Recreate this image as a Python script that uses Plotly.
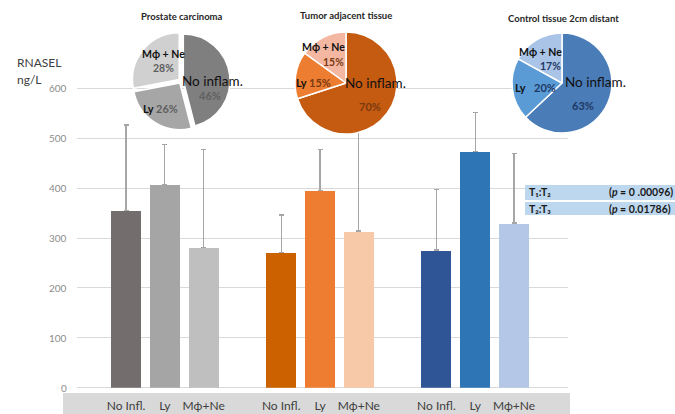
import plotly.graph_objects as go

# ---------------- data ----------------
categories = ["No Infl.", "Ly", "Mϕ+Ne"]
groups = ["Prostate carcinoma", "Tumor adjacent tissue", "Control tissue 2cm distant"]
means = [[355, 408, 281], [271, 396, 314], [276, 474, 330]]
err_top = [[527, 487, 477], [346, 477, 535], [398, 552, 470]]
bar_colors = [["#736d6d", "#a5a5a5", "#bfbfbf"],
              ["#cc6100", "#ee7d31", "#f8c9a9"],
              ["#2f5597", "#2e75b6", "#b4c7e7"]]

pie_labels = ["No inflam.", "Ly", "Mϕ + Ne"]
pie_values = [[46, 26, 28], [70, 15, 15], [63, 20, 17]]
pie_colors = [["#7f7f7f", "#a6a6a6", "#d0d0d0"],
              ["#c55a11", "#ed7d31", "#f4b8a2"],
              ["#4a7cb8", "#5b9bd5", "#a9c4e7"]]
pct_colors = ["#5f5f5f", "#7a3a12", "#1f3864"]

stats_rows = [("T₁:T₂", "(<i>p</i> = 0 .00096)"), ("T₂:T₃", "(<i>p</i> = 0.01786)")]

y_ticks = [0, 100, 200, 300, 400, 500, 600]

# ---------------- figure ----------------
W, H = 675, 414
FONT = "Lato"
fig = go.Figure()

xpos, ytxt, vals, errs, cols = [], [], [], [], []
for g in range(3):
    for c in range(3):
        xpos.append(g * 4 + c)
        ytxt.append(categories[c])
        vals.append(means[g][c])
        errs.append(err_top[g][c] - means[g][c])
        cols.append(bar_colors[g][c])

fig.add_trace(go.Bar(
    x=xpos, y=vals, width=0.77,
    marker=dict(color=cols, line=dict(width=0)),
    error_y=dict(type="data", array=errs, arrayminus=[0] * len(errs), symmetric=False,
                 color="#a6a6a6", thickness=1.3, width=2.5),
    showlegend=False, hoverinfo="skip"))

def px_x(x):
    return x / W

def px_y(y):
    return (H - y) / H

# pies: (left, right, top, bottom) pixel boxes
pie_boxes = [(132, 230, 32, 130), (295, 397, 32, 134), (512, 612, 33, 133)]
pulls = [[0.05, 0.05, 0.05], [0, 0, 0], [0, 0, 0]]
for i in range(3):
    l, r, t, b = pie_boxes[i]
    fig.add_trace(go.Pie(
        values=pie_values[i], labels=pie_labels, sort=False, direction="clockwise",
        rotation=0, textinfo="none", hoverinfo="skip", showlegend=False,
        pull=pulls[i],
        marker=dict(colors=pie_colors[i], line=dict(color="white", width=1.5)),
        domain=dict(x=[px_x(l), px_x(r)], y=[px_y(b), px_y(t)])))

# layout geometry
x_left_px, x_right_px = 77, 568
y0_px, ytop_px = 387.7, 68.5
unit = 38.8
x_range = [-(126 - x_left_px) / unit, 10 + (x_right_px - 514) / unit]

fig.update_layout(
    width=W, height=H, margin=dict(l=0, r=0, t=0, b=0),
    paper_bgcolor="white", plot_bgcolor="white",
    font=dict(family=FONT),
    bargap=0,
    xaxis=dict(domain=[px_x(x_left_px), px_x(x_right_px)], range=x_range,
               tickvals=xpos, ticktext=ytxt, showgrid=False, zeroline=False,
               showline=False, ticks="", ticklabelstandoff=9,
               tickfont=dict(size=12, color="#404040", family=FONT)),
    yaxis=dict(domain=[px_y(y0_px), px_y(ytop_px)], range=[0, 640],
               tickvals=y_ticks, showgrid=True, gridcolor="#d9d9d9", gridwidth=1,
               zeroline=True, zerolinecolor="#d9d9d9", zerolinewidth=1,
               showline=False, ticks="", showticklabels=False),
)

shapes = []
# gray category band
shapes.append(dict(type="rect", xref="paper", yref="paper", layer="below",
                   x0=px_x(63), x1=px_x(570), y0=px_y(414), y1=px_y(393),
                   fillcolor="#d9d9d9", line=dict(width=0)))
# stats table rows
row_boxes = [(185, 200), (202, 215)]
for (t, b) in row_boxes:
    shapes.append(dict(type="rect", xref="paper", yref="paper", layer="above",
                       x0=px_x(525), x1=1, y0=px_y(b), y1=px_y(t),
                       fillcolor="#bdd7ee", line=dict(width=0)))
fig.update_layout(shapes=shapes)

ann = []
def add_text(x, y, text, size, color="#1a1a1a", xanchor="center", bold=False):
    if bold:
        text = "<b>" + text + "</b>"
    ann.append(dict(xref="paper", yref="paper", x=px_x(x), y=px_y(y), text=text,
                    showarrow=False, xanchor=xanchor, yanchor="middle",
                    font=dict(size=size, color=color, family=FONT)))

# y tick labels placed on the y scale
for v in y_ticks:
    ann.append(dict(xref="paper", yref="y", x=px_x(69), y=v, text=str(v),
                    showarrow=False, xanchor="right", yanchor="middle",
                    font=dict(size=10, color="#8c8c8c", family=FONT)))

# y-axis title
add_text(15, 62, "RNASEL", 12, "#404040", xanchor="left")
add_text(15, 80, "ng/L", 12, "#404040", xanchor="left")

# pie titles
add_text(182, 17, groups[0], 9.5, "#262626", bold=True)
add_text(346, 16, groups[1], 9.5, "#262626", bold=True)
add_text(563, 19, groups[2], 9.5, "#262626", bold=True)

# pie labels: positions per pie (No inflam., pct), (Ly, pct), (Mphi, pct)
lab_pos = [
    dict(no=(213, 81), nop=(210, 95), ly=(148, 108), lyp=(167, 108), mp=(163, 54), mpp=(163, 68)),
    dict(no=(375, 83), nop=(370, 106), ly=(301, 82), lyp=(320, 82), mp=(323, 47), mpp=(333, 62)),
    dict(no=(595, 82), nop=(583, 105), ly=(520, 87), lyp=(545, 87), mp=(540, 52), mpp=(550, 66)),
]
for i in range(3):
    p = lab_pos[i]
    v = pie_values[i]
    add_text(*p["no"], pie_labels[0], 13.5, "#111111")
    add_text(*p["nop"], f"{v[0]}%", 11, pct_colors[i], bold=True)
    add_text(*p["ly"], pie_labels[1], 11, "#111111", bold=True)
    add_text(*p["lyp"], f"{v[1]}%", 11, pct_colors[i], bold=True)
    add_text(*p["mp"], pie_labels[2], 10.5, "#111111", bold=True)
    add_text(*p["mpp"], f"{v[2]}%", 10.5, pct_colors[i], bold=True)

# stats table text
for k, (t, b) in enumerate(row_boxes):
    yc = (t + b) / 2
    add_text(527, yc, stats_rows[k][0], 10.5, "#1a1a1a", xanchor="left", bold=True)
    add_text(607, yc, stats_rows[k][1], 10.5, "#1a1a1a", xanchor="left", bold=True)

fig.update_layout(annotations=ann)

fig.write_html("out.html")
